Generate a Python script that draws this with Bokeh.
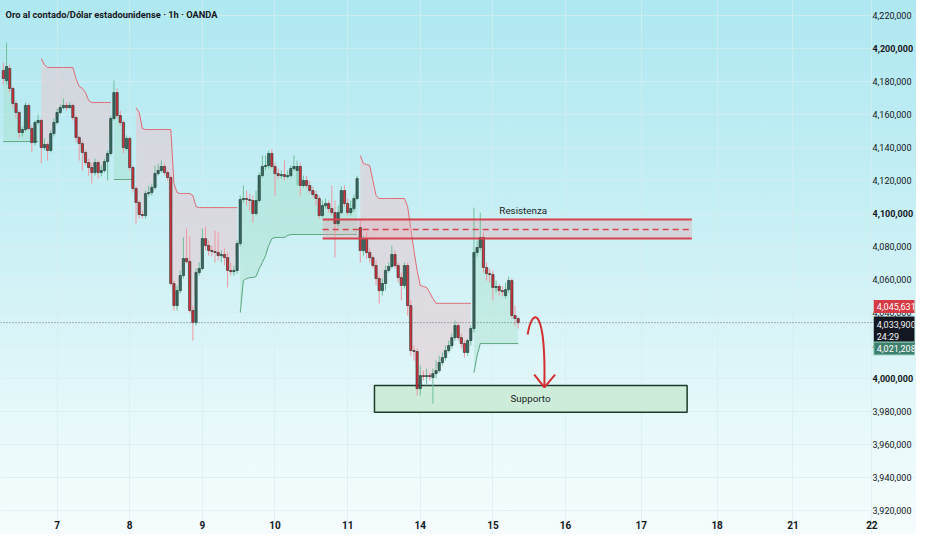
from bokeh.plotting import figure
from bokeh.models import (ColumnDataSource, FixedTicker, CustomJSTickFormatter,
                          Label, Span, Range1d, LinearAxis)
from bokeh.embed import file_html
from bokeh.resources import INLINE

TITLE = "Oro al contado/Dólar estadounidense · 1h · OANDA"

# ---------------- data (hourly candles, USD) ----------------
opens = [
    4186.7, 4180.6, 4187.9, 4175.8, 4166.7, 4161.2, 4149.1, 4150.9, 4165.5, 4151.5,
    4143.0, 4155.2, 4156.4, 4140.0, 4141.8, 4138.2, 4148.5, 4155.2, 4161.2, 4164.2,
    4165.5, 4164.2, 4165.5, 4158.2, 4146.1, 4142.4, 4137.0, 4130.9, 4127.9, 4124.8,
    4130.9, 4124.8, 4126.1, 4131.5, 4136.4, 4157.6, 4173.3, 4159.4, 4155.2, 4139.4,
    4145.5, 4127.9, 4115.2, 4106.7, 4099.4, 4098.8, 4112.1, 4112.7, 4115.8, 4124.2,
    4126.1, 4128.5, 4124.8, 4121.8, 4057.6, 4044.2, 4053.3, 4062.4, 4072.7, 4070.9,
    4041.2, 4033.9, 4064.2, 4066.7, 4084.8, 4080.6, 4077.6, 4077.0, 4076.4, 4074.5,
    4075.2, 4073.3, 4065.5, 4064.8, 4065.5, 4081.8, 4108.5, 4109.1, 4108.5, 4107.9,
    4100.0, 4107.9, 4123.0, 4128.5, 4129.1, 4136.4, 4128.5, 4124.2, 4123.0, 4123.6,
    4122.4, 4123.0, 4127.3, 4126.1, 4128.5, 4117.0, 4120.0, 4117.0, 4113.9, 4111.5,
    4109.1, 4098.8, 4104.8, 4106.1, 4103.0, 4100.6, 4093.9, 4100.6, 4113.9, 4106.1,
    4100.6, 4103.0, 4109.1, 4091.5, 4077.6, 4084.8, 4076.4, 4073.3, 4068.5, 4060.6,
    4053.3, 4057.6, 4065.5, 4067.9, 4075.2, 4068.5, 4061.2, 4056.4, 4068.5, 4044.2,
    4017.0, 4016.4, 3993.9, 4001.8, 4001.2, 4001.8, 4000.6, 4003.0, 4004.8, 4009.7,
    4012.7, 4017.0, 4020.0, 4024.8, 4032.1, 4024.8, 4021.2, 4015.8, 4023.0, 4030.3,
    4076.4, 4079.4, 4085.5, 4067.3, 4063.6, 4063.0, 4055.2, 4055.8, 4053.3, 4050.3,
    4053.9, 4059.4, 4038.2, 4036.4,
]
highs = [
    4191.5, 4203.6, 4190.3, 4177.0, 4168.5, 4162.4, 4152.7, 4167.3, 4166.7, 4153.3,
    4156.4, 4160.0, 4157.6, 4145.5, 4143.0, 4150.3, 4157.6, 4163.6, 4166.1, 4169.7,
    4167.3, 4167.3, 4166.7, 4159.4, 4147.3, 4144.2, 4138.2, 4133.3, 4130.9, 4133.3,
    4132.1, 4129.1, 4133.3, 4138.2, 4159.4, 4180.6, 4175.8, 4162.4, 4156.4, 4147.3,
    4146.7, 4129.1, 4116.4, 4107.9, 4101.8, 4113.9, 4117.0, 4118.2, 4129.1, 4130.3,
    4132.1, 4130.3, 4126.1, 4123.0, 4059.4, 4056.4, 4065.5, 4085.5, 4090.9, 4086.1,
    4044.2, 4066.7, 4070.3, 4090.9, 4092.1, 4083.6, 4080.6, 4089.7, 4088.5, 4077.6,
    4078.8, 4076.4, 4070.3, 4068.5, 4083.6, 4110.9, 4117.0, 4113.9, 4112.1, 4110.9,
    4113.9, 4124.8, 4135.2, 4135.2, 4138.2, 4138.8, 4130.9, 4127.3, 4126.1, 4132.1,
    4126.1, 4129.1, 4135.2, 4132.1, 4130.9, 4123.0, 4123.0, 4120.0, 4116.4, 4113.9,
    4110.9, 4107.9, 4109.1, 4107.9, 4117.0, 4107.9, 4104.8, 4116.4, 4117.0, 4109.1,
    4107.9, 4111.5, 4123.0, 4095.8, 4086.7, 4088.5, 4078.8, 4074.5, 4071.5, 4062.4,
    4060.6, 4068.5, 4070.3, 4080.6, 4077.6, 4070.3, 4064.2, 4070.3, 4070.3, 4047.3,
    4020.0, 4018.2, 4007.9, 4004.8, 4006.1, 4003.6, 4006.1, 4010.9, 4013.9, 4015.8,
    4020.0, 4023.0, 4027.3, 4035.2, 4033.9, 4027.3, 4023.0, 4024.2, 4032.1, 4103.6,
    4083.6, 4100.6, 4088.5, 4070.3, 4066.7, 4065.5, 4059.4, 4057.6, 4056.4, 4058.2,
    4061.8, 4060.6, 4044.2, 4037.6,
]
lows = [
    4178.2, 4178.2, 4173.3, 4163.6, 4157.6, 4145.5, 4146.7, 4149.7, 4150.3, 4137.0,
    4141.2, 4153.9, 4130.3, 4138.2, 4132.1, 4137.0, 4146.7, 4153.9, 4160.0, 4163.0,
    4162.4, 4163.6, 4156.4, 4143.0, 4132.1, 4126.1, 4129.1, 4123.0, 4118.2, 4123.0,
    4121.2, 4122.4, 4124.8, 4120.0, 4135.2, 4156.4, 4157.6, 4153.3, 4136.4, 4138.2,
    4126.1, 4112.7, 4093.9, 4097.0, 4097.0, 4097.0, 4110.3, 4110.9, 4114.5, 4123.0,
    4124.8, 4123.0, 4120.0, 4056.4, 4041.2, 4041.2, 4051.5, 4060.6, 4069.7, 4040.0,
    4023.0, 4032.1, 4062.4, 4065.5, 4077.6, 4074.5, 4073.9, 4070.3, 4071.5, 4070.3,
    4068.5, 4055.2, 4062.4, 4062.4, 4063.6, 4080.0, 4106.7, 4104.8, 4101.8, 4094.5,
    4098.8, 4106.7, 4121.8, 4126.1, 4127.3, 4127.3, 4110.9, 4121.2, 4121.2, 4120.0,
    4121.2, 4121.8, 4126.1, 4117.0, 4110.9, 4115.8, 4115.2, 4112.1, 4109.7, 4104.8,
    4097.0, 4097.6, 4103.0, 4100.6, 4098.8, 4073.3, 4092.1, 4099.4, 4104.2, 4098.8,
    4098.8, 4101.2, 4107.9, 4070.3, 4074.5, 4072.7, 4070.3, 4066.7, 4056.4, 4045.5,
    4050.3, 4053.3, 4064.2, 4066.7, 4066.7, 4058.2, 4047.3, 4054.5, 4038.2, 4013.9,
    4010.9, 3989.7, 3989.7, 3998.8, 3995.8, 3998.8, 3984.8, 4000.0, 4003.6, 4007.9,
    4010.9, 4015.8, 4018.2, 4023.0, 4023.0, 4018.2, 4012.7, 4013.9, 4020.0, 4027.9,
    4073.9, 4077.6, 4064.2, 4059.4, 4058.2, 4047.3, 4052.1, 4050.3, 4049.7, 4048.5,
    4052.1, 4036.4, 4032.1, 4030.3,
]
closes = [
    4181.8, 4189.1, 4175.8, 4166.7, 4161.2, 4149.1, 4150.9, 4165.5, 4151.5, 4143.0,
    4155.2, 4156.4, 4140.0, 4141.8, 4138.2, 4148.5, 4155.2, 4161.2, 4164.2, 4165.5,
    4164.2, 4165.5, 4158.2, 4146.1, 4142.4, 4137.0, 4130.9, 4127.9, 4124.8, 4130.9,
    4124.8, 4126.1, 4131.5, 4136.4, 4157.6, 4173.3, 4159.4, 4155.2, 4140.0, 4145.5,
    4127.9, 4115.2, 4106.7, 4099.4, 4098.8, 4112.1, 4112.7, 4115.8, 4124.2, 4126.1,
    4128.5, 4124.8, 4121.8, 4057.6, 4044.2, 4053.3, 4062.4, 4072.7, 4070.9, 4041.2,
    4033.9, 4064.2, 4066.7, 4084.8, 4080.6, 4077.6, 4077.0, 4076.4, 4074.5, 4075.2,
    4073.3, 4065.5, 4064.8, 4065.5, 4081.8, 4108.5, 4109.1, 4108.5, 4107.9, 4100.0,
    4107.9, 4123.0, 4128.5, 4129.1, 4136.4, 4128.5, 4124.2, 4123.0, 4123.6, 4122.4,
    4123.0, 4127.3, 4128.5, 4128.5, 4117.0, 4120.0, 4117.0, 4113.9, 4111.5, 4109.1,
    4098.8, 4104.8, 4106.1, 4103.0, 4100.6, 4093.9, 4100.6, 4113.9, 4106.1, 4100.6,
    4103.0, 4109.1, 4121.2, 4077.6, 4084.8, 4076.4, 4073.3, 4068.5, 4060.6, 4053.3,
    4057.6, 4065.5, 4067.9, 4075.2, 4068.5, 4061.2, 4056.4, 4068.5, 4044.2, 4017.0,
    4016.4, 3993.9, 4001.8, 4001.2, 4001.8, 4001.2, 4003.0, 4004.8, 4009.7, 4012.7,
    4017.0, 4020.0, 4024.8, 4032.1, 4024.8, 4021.2, 4015.8, 4023.0, 4030.3, 4076.4,
    4079.4, 4085.5, 4067.3, 4063.6, 4063.0, 4055.2, 4055.8, 4053.3, 4052.7, 4053.9,
    4059.4, 4038.2, 4036.4, 4033.9,
]

# trailing-stop indicator: (direction, first bar, values)
trend_segments = [
    ("up", 0, [4143.6, 4143.6, 4143.6, 4143.6, 4143.6, 4143.6, 4143.6, 4143.6,
               4143.6, 4143.6, 4143.6, 4143.6]),
    ("dn", 12, [4193.9, 4190.3, 4188.5, 4188.5, 4188.5, 4188.5, 4188.5, 4188.5,
                4188.5, 4188.5, 4188.5, 4181.8, 4177.0, 4175.8, 4173.3, 4168.5,
                4167.3, 4167.3, 4167.3, 4167.3, 4167.3, 4167.3, 4167.3]),
    ("up", 35, [4120.6, 4120.6, 4120.6, 4120.6, 4120.6, 4120.6, 4120.6]),
    ("dn", 42, [4164.2, 4161.2, 4151.5, 4150.9, 4150.9, 4150.9, 4150.9, 4150.9,
                4150.9, 4150.9, 4150.9, 4150.9, 4118.2, 4112.7, 4112.1, 4112.1,
                4112.1, 4112.1, 4110.9, 4104.2, 4103.6, 4103.6, 4103.6, 4103.6,
                4103.6, 4103.6, 4103.6, 4103.6, 4103.6, 4103.6, 4103.6, 4103.6,
                4103.6]),
    ("up", 75, [4040.0, 4059.4, 4060.6, 4061.2, 4061.2, 4061.8, 4066.7, 4070.3,
                4074.5, 4080.6, 4084.8, 4085.5, 4085.5, 4085.5, 4085.5, 4086.7,
                4087.3, 4087.3, 4087.3, 4087.3, 4087.3, 4087.3, 4087.3, 4087.3,
                4087.3, 4087.3, 4087.3, 4087.3, 4087.3, 4087.3, 4087.3, 4087.3,
                4087.3, 4087.3, 4087.3, 4087.3, 4087.3, 4087.3]),
    ("dn", 113, [4135.2, 4130.3, 4129.7, 4129.1, 4120.0, 4110.9, 4109.1, 4109.1,
                 4109.1, 4109.1, 4109.1, 4109.1, 4109.1, 4109.1, 4109.1, 4104.2,
                 4090.9, 4077.6, 4065.5, 4056.4, 4055.8, 4055.2, 4052.1, 4048.5,
                 4045.6, 4045.6, 4045.6, 4045.6, 4045.6, 4045.6, 4045.6, 4045.6,
                 4045.6, 4045.6, 4045.6, 4045.6]),
    ("up", 149, [4003.6, 4013.9, 4021.2, 4021.2, 4021.2, 4021.2, 4021.2, 4021.2,
                 4021.2, 4021.2, 4021.2, 4021.2, 4021.2, 4021.2, 4021.2]),
]

day_tick_pos = [17, 40, 63, 86, 109, 132, 155, 178, 202, 226, 250, 275]
day_tick_labels = ["7", "8", "9", "10", "11", "14", "15", "16", "17", "18", "21", "22"]
price_ticks = [3920, 3940, 3960, 3980, 4020, 4040, 4060, 4080,
               4120, 4140, 4160, 4180, 4220]
round_price_ticks = [4000, 4100, 4200]

resistance_x = [101.1, 218.0]
resistance_y = [4084.8, 4096.4]
resistance_mid = 4090.3
support_x = [117.5, 216.5]
support_y = [3979.6, 3995.8]
last_price = 4033.9
last_price_text = "4,033,900"
countdown_text = "24:29"
red_stop_text = "4,045,631"
green_stop_text = "4,021,208"
# price-tag anchors (bar index, price)
tag_x = 275.6
red_tag_y = 4043.6
black_tag_y = 4037.6
green_tag_y = 4018.2
# hand-drawn arrow (bar index / price)
arrow_curve = dict(x0=166.0, y0=4026.7, cx0=167.5, cy0=4044.0,
                   cx1=171.8, cy1=4044.0, x1=171.3, y1=3994.7)
arrow_head_x = [168.1, 171.3, 174.7]
arrow_head_y = [4002.4, 3994.7, 4002.4]

# ---------------- figure ----------------
FONT = "Roboto"
p = figure(width=916, height=534, x_range=Range1d(-0.92, 288.5),
           y_range=Range1d(3905.5, 4229.1), output_backend="svg",
           toolbar_location=None, y_axis_location="right",
           min_border_left=0, min_border_top=0, min_border_right=0,
           min_border_bottom=0)
p.styles = {"background": "linear-gradient(180deg, #afe8f1 0%, #c3eef4 35%, "
                          "#dbf5f8 65%, #f0fbfc 90%, #f6fcfd 100%)"}
p.background_fill_alpha = 0
p.border_fill_alpha = 0
p.outline_line_color = None

p.xgrid.ticker = FixedTicker(ticks=day_tick_pos)
p.ygrid.ticker = FixedTicker(ticks=sorted(price_ticks + round_price_ticks))
for g in (p.xgrid, p.ygrid):
    g.grid_line_color = "#d8ecf0"
    g.grid_line_alpha = 0.7

p.xaxis.ticker = FixedTicker(ticks=day_tick_pos)
p.xaxis.major_label_overrides = {t: l for t, l in zip(day_tick_pos, day_tick_labels)}
p.yaxis.ticker = FixedTicker(ticks=price_ticks)
price_fmt = "return Math.round(tick*1000).toLocaleString('en-US');"
p.yaxis.formatter = CustomJSTickFormatter(code=price_fmt)

round_axis = LinearAxis(ticker=FixedTicker(ticks=round_price_ticks),
                        formatter=CustomJSTickFormatter(code=price_fmt))
p.add_layout(round_axis, "right")

for ax in (p.xaxis[0], p.yaxis[0], round_axis):
    ax.axis_line_color = None
    ax.major_tick_line_color = None
    ax.minor_tick_line_color = None
    ax.major_tick_in = 0
    ax.major_tick_out = 0
    ax.major_label_text_font = FONT
    ax.major_label_text_color = "#131722"
for ax in (p.yaxis[0], round_axis):
    ax.major_label_text_font_size = "9px"
    ax.major_label_standoff = -42
round_axis.major_label_text_font_style = "bold"
p.xaxis.major_label_text_font_size = "10px"
p.xaxis.major_label_text_font_style = "bold"
p.xaxis.major_label_standoff = -14

# support zone (under candles)
p.quad(left=[support_x[0]], right=[support_x[1]], bottom=[support_y[0]],
       top=[support_y[1]], fill_color="#cbebd8", fill_alpha=0.95,
       line_color="#1e3b2c", line_width=1.5)

# indicator fills and lines
for kind, start, vals in trend_segments:
    xs = list(range(start, start + len(vals)))
    cl = closes[start:start + len(vals)]
    if kind == "up":
        p.varea(x=xs, y1=vals, y2=cl, fill_color="#9fdcc0", fill_alpha=0.35)
        p.line(xs, vals, line_color="#5aa67e", line_width=1)
    else:
        p.varea(x=xs, y1=vals, y2=cl, fill_color="#e5ccd2", fill_alpha=0.6)
        p.line(xs, vals, line_color="#e06a74", line_width=1)

# resistance zone fill
p.quad(left=[resistance_x[0]], right=[resistance_x[1]], bottom=[resistance_y[0]],
       top=[resistance_y[1]], fill_color="#e9a3ad", fill_alpha=0.35, line_color=None)

# candles
idx = list(range(len(closes)))
up = [c >= o for o, c in zip(opens, closes)]
src = ColumnDataSource(dict(
    x=idx, h=highs, l=lows,
    top=[max(o, c) for o, c in zip(opens, closes)],
    bottom=[min(o, c) for o, c in zip(opens, closes)],
    bc=["#3a6b60" if u else "#d8303c" for u in up],
    wc=["#6fbf9a" if u else "#f097a1" for u in up],
))
p.segment(x0="x", y0="h", x1="x", y1="l", line_color="wc", line_width=1, source=src)
p.vbar(x="x", width=0.72, top="top", bottom="bottom", fill_color="bc",
       line_color="#1d302c", line_width=0.6, source=src)

# resistance lines
for yv in resistance_y:
    p.line(resistance_x, [yv, yv], line_color="#d4434f", line_width=2)
p.line(resistance_x, [resistance_mid, resistance_mid], line_color="#d4434f",
       line_width=1.5, line_dash="6 4")

# current price line
p.add_layout(Span(location=last_price, dimension="width", line_color="#6b6f78",
                  line_width=1, line_dash="1 2"))

# arrow
p.bezier(x0=[arrow_curve["x0"]], y0=[arrow_curve["y0"]], x1=[arrow_curve["x1"]],
         y1=[arrow_curve["y1"]], cx0=[arrow_curve["cx0"]], cy0=[arrow_curve["cy0"]],
         cx1=[arrow_curve["cx1"]], cy1=[arrow_curve["cy1"]],
         line_color="#d32f2f", line_width=2)
p.line(arrow_head_x, arrow_head_y, line_color="#d32f2f", line_width=2)

# texts
p.add_layout(Label(x=5, y=4220.6, x_units="canvas", text=TITLE,
                   text_font=FONT, text_font_size="9.3px",
                   text_font_style="bold", text_color="#131722",
                   text_baseline="middle"))
p.add_layout(Label(x=164.6, y=4101.8, text="Resistenza",
                   text_font=FONT, text_font_size="9.8px",
                   text_color="#1b2626", text_align="center", text_baseline="middle"))
p.add_layout(Label(x=166.9, y=3987.9, text="Supporto",
                   text_font=FONT, text_font_size="9.8px",
                   text_color="#1b2626", text_align="center", text_baseline="middle"))

# price tags on the axis
p.add_layout(Label(x=tag_x, y=red_tag_y, text=red_stop_text,
                   text_font=FONT, text_font_size="9px", text_color="white",
                   text_baseline="middle", background_fill_color="#d53a45", padding=3))
p.add_layout(Label(x=tag_x, y=black_tag_y,
                   text=last_price_text + "\n" + countdown_text,
                   text_font=FONT, text_font_size="9px", text_color="#f4f4f4",
                   text_baseline="top", background_fill_color="#131722", padding=3))
p.add_layout(Label(x=tag_x, y=green_tag_y, text=green_stop_text,
                   text_font=FONT, text_font_size="9px", text_color="white",
                   text_baseline="middle", background_fill_color="#3f7f6d",
                   border_line_color="#9fdcc4", padding=3))

open("out.html", "w").write(file_html(p, INLINE))
